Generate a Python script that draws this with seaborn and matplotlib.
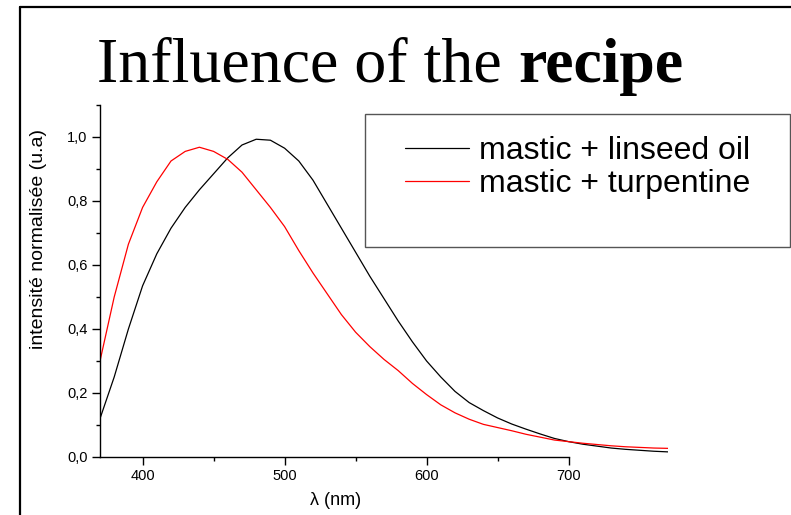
import pandas as pd
import numpy as np
import seaborn as sns
import matplotlib.pyplot as plt
from matplotlib.lines import Line2D
from matplotlib.patches import Rectangle
from matplotlib.ticker import MultipleLocator, FuncFormatter, FixedLocator

sns.set_theme(style="ticks")
plt.rcParams["font.family"] = ["Liberation Sans", "DejaVu Sans"]
plt.rcParams["text.color"] = "black"
plt.rcParams["axes.labelcolor"] = "black"
plt.rcParams["xtick.color"] = "black"
plt.rcParams["ytick.color"] = "black"

# longueurs d'onde (nm) et intensités normalisées
wavelength = [370, 380, 390, 400, 410, 420, 430, 440, 450, 460, 470, 480, 490, 500,
              510, 520, 530, 540, 550, 560, 570, 580, 590, 600, 610, 620, 630, 640,
              650, 660, 670, 680, 690, 700, 710, 720, 730, 740, 750, 760, 770]
linseed = [0.12, 0.25, 0.40, 0.535, 0.635, 0.715, 0.78, 0.835, 0.885, 0.935, 0.975, 0.993,
           0.99, 0.965, 0.925, 0.865, 0.79, 0.715, 0.64, 0.565, 0.495, 0.425, 0.36,
           0.30, 0.25, 0.205, 0.17, 0.145, 0.122, 0.103, 0.087, 0.072, 0.058, 0.048,
           0.040, 0.034, 0.028, 0.024, 0.021, 0.018, 0.016]
turpentine = [0.30, 0.50, 0.665, 0.78, 0.86, 0.925, 0.955, 0.968, 0.955, 0.93, 0.89,
              0.835, 0.78, 0.72, 0.645, 0.575, 0.51, 0.445, 0.39, 0.345, 0.305, 0.27,
              0.23, 0.195, 0.163, 0.138, 0.118, 0.102, 0.092, 0.082, 0.071, 0.062,
              0.053, 0.048, 0.043, 0.039, 0.035, 0.032, 0.030, 0.028, 0.027]
series_names = ["mastic + linseed oil", "mastic + turpentine"]

df = pd.concat([
    pd.DataFrame({"wl": wavelength, "intensity": linseed, "recette": series_names[0]}),
    pd.DataFrame({"wl": wavelength, "intensity": turpentine, "recette": series_names[1]}),
])

fig = plt.figure(figsize=(7.91, 5.15), dpi=100)
ax = fig.add_axes([100 / 791, 58 / 515, 568 / 791, 352 / 515])

sns.lineplot(data=df, x="wl", y="intensity", hue="recette",
             palette={series_names[0]: "black", series_names[1]: "red"},
             linewidth=0.9, ax=ax, legend=False)

ax.set_xlim(370, 770)
ax.set_ylim(0, 1.1)
ax.set_xticks([400, 500, 600, 700])
ax.xaxis.set_minor_locator(FixedLocator([450, 550, 650]))
ax.yaxis.set_major_locator(MultipleLocator(0.2))
ax.yaxis.set_minor_locator(MultipleLocator(0.1))
ax.yaxis.set_major_formatter(FuncFormatter(lambda v, p: f"{v:.1f}".replace(".", ",")))
ax.tick_params(which="major", direction="out", length=5.5, width=1, labelsize=10.5, color="black")
ax.tick_params(which="minor", direction="out", length=3, width=1, color="black")
ax.spines["bottom"].set_bounds(370, 700)
for s in ["top", "right"]:
    ax.spines[s].set_visible(False)
for s in ["left", "bottom"]:
    ax.spines[s].set_color("black")
    ax.spines[s].set_linewidth(1)

ax.set_xlabel("λ (nm)", fontsize=13)
ax.set_ylabel("intensité normalisée (u.a)", fontsize=14)
ax.xaxis.set_label_coords(0.414, -0.1)
ax.yaxis.set_label_coords(-0.093, 0.619)

# légende dans un cadre
handles = [Line2D([], [], color="black", lw=0.9), Line2D([], [], color="red", lw=0.9)]
fig.legend(handles, series_names, loc="upper left", bbox_to_anchor=(405 / 791, 1 - 136 / 515),
           frameon=False, fontsize=23, handlelength=2.0, handletextpad=0.33,
           labelspacing=0.1, borderpad=0, borderaxespad=0)
fig.add_artist(Rectangle((365 / 791, 1 - 247 / 515), 425 / 791, 133 / 515,
                         transform=fig.transFigure, fill=False, edgecolor="#555555", lw=1))

# cadre de la diapositive
fig.add_artist(Line2D([19.5 / 791, 19.5 / 791], [0, 1 - 7 / 515], transform=fig.transFigure,
                      color="black", lw=1.6))
fig.add_artist(Line2D([19.5 / 791, 1], [1 - 7 / 515, 1 - 7 / 515], transform=fig.transFigure,
                      color="black", lw=1.6))

# titre
t1 = fig.text(97 / 791, 1 - 82 / 515, "Influence of the ", fontsize=46,
              family="Liberation Serif", va="baseline", ha="left")
fig.canvas.draw()
bb = t1.get_window_extent(renderer=fig.canvas.get_renderer())
fig.text(bb.x1 / fig.bbox.width, 1 - 82 / 515, "recipe", fontsize=46, fontweight="bold",
         family="Liberation Serif", va="baseline", ha="left")

fig.savefig("out.png", dpi=100)
